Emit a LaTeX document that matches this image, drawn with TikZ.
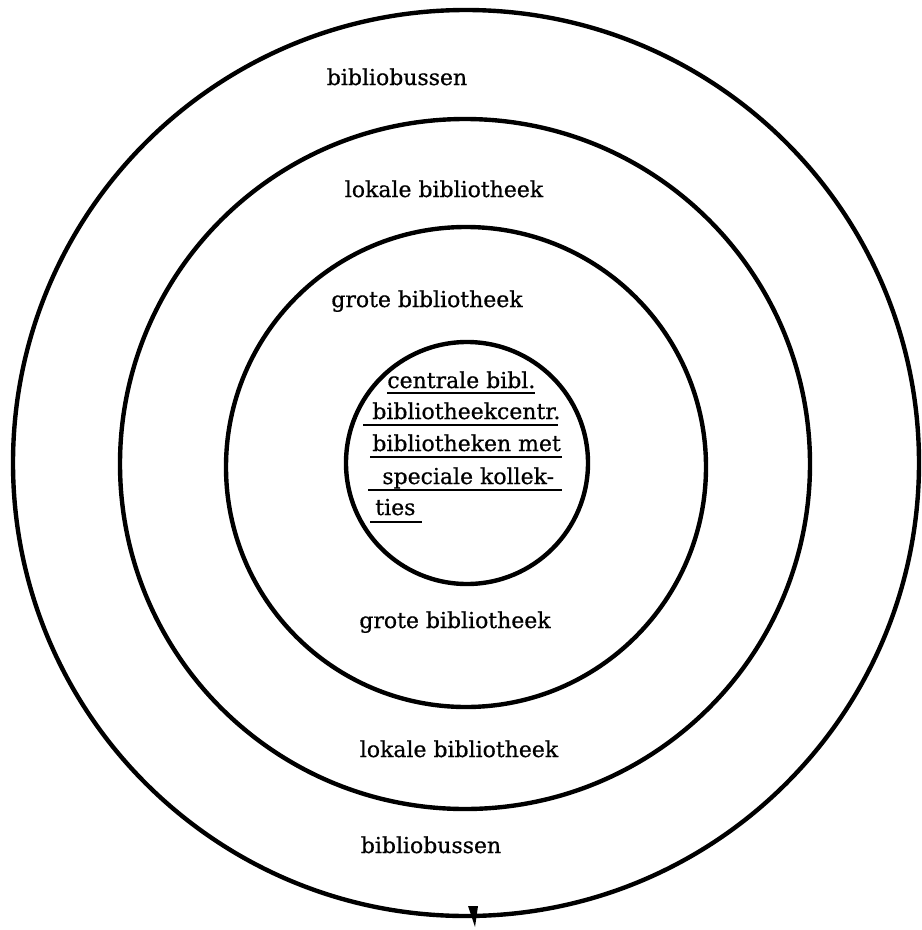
\documentclass[tikz,border=0pt]{standalone}
\usepackage{fontspec}
\setmainfont{DejaVu Serif}[FakeBold=0.7]
\usetikzlibrary{positioning}
\tikzset{
  ring/.style  ={draw=black, line width=2.5pt},
  lbl/.style   ={font=\fontsize{12.5}{15}\selectfont, inner sep=0pt, anchor=base},
  core/.style  ={font=\fontsize{12.5}{15}\selectfont, inner sep=0pt, anchor=base west},
  uline/.style ={draw=black, line width=1.2pt}
}
\begin{document}
\begin{tikzpicture}[x=0.02cm, y=-0.02cm]
\useasboundingbox (0,0) rectangle (922,930);
% rings
\draw[ring] (466,463) circle (453);
\draw[ring] (465,464) circle (345);
\draw[ring] (466,467) circle (240);
\draw[ring] (467,463) circle (121);
\fill (468,906) -- (478,906) -- (475,927) -- cycle;
% ring labels
\node[lbl] (busT)  at (397,85)  {bibliobussen};
\node[lbl] (lokT)  at (444,197) {lokale bibliotheek};
\node[lbl] (grtT)  at (427,307) {grote bibliotheek};
\node[lbl] (grtB)  at (455,628) {grote bibliotheek};
\node[lbl] (lokB)  at (459,757) {lokale bibliotheek};
\node[lbl] (busB)  at (431,853) {bibliobussen};
% centre
\node[core] (c1) at (387,388) {centrale bibl.};
\node[core] (c2) at (372,419) {bibliotheekcentr.};
\node[core] (c3) at (372,451) {bibliotheken met};
\node[core] (c4) at (382,484) {speciale kollek-};
\node[core] (c5) at (375,515) {ties};
\draw[uline] (387,393) -- (535,393);
\draw[uline] (363,425) -- (558,425);
\draw[uline] (370,457) -- (562,457);
\draw[uline] (368,490) -- (562,490);
\draw[uline] (370,522) -- (422,522);
\end{tikzpicture}
\end{document}
